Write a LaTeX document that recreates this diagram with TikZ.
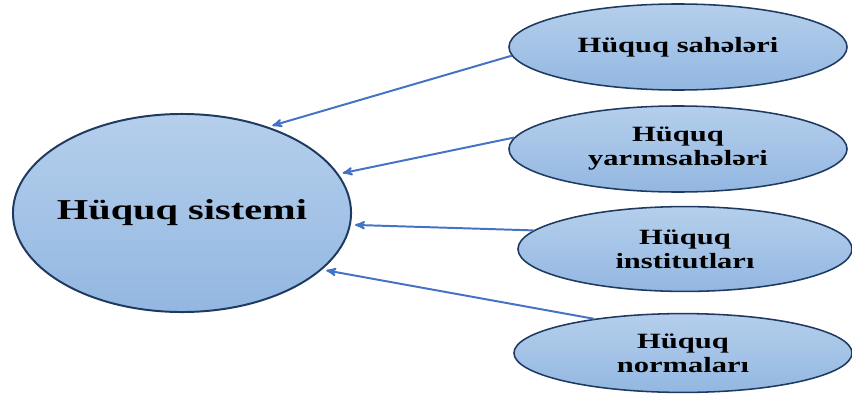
\documentclass[tikz,border=0pt]{standalone}
\usepackage{fontspec}
\newfontfamily\diafont[FakeStretch=1.4]{Liberation Serif}
\usetikzlibrary{%
  arrows,%
  shapes.geometric,% wg. ellipse
  positioning%
}
\definecolor{ellfill top}{HTML}{B5CFEC}
\definecolor{ellfill bot}{HTML}{93B7E1}
\definecolor{elldraw}{HTML}{1F3A60}
\definecolor{arrowblue}{HTML}{4472C4}

\begin{document}
\begin{tikzpicture}[
  x=0.025cm, y=-0.025cm,
  >=stealth',
  bigell/.style={ellipse, draw=elldraw, line width=1.4pt, top color=ellfill top, bottom color=ellfill bot, inner sep=0pt, inner xsep=-12pt, minimum width=8.45cm, minimum height=4.95cm, font=\diafont\bfseries\fontsize{20.5}{24}\selectfont},
  smallell/.style={ellipse, draw=elldraw, line width=1.1pt, top color=ellfill top, bottom color=ellfill bot, inner sep=0pt, minimum width=8.45cm, minimum height=2.15cm, align=center, font=\diafont\bfseries\fontsize{15.5}{17}\selectfont},
  link/.style={->, draw=arrowblue, line width=1.4pt, shorten >=3pt}
]
\useasboundingbox (0,0) rectangle (852,394);

\node[bigell] (system) at (182,213) {Hüquq sistemi};

\node[smallell] (branches) at (678,47) {Hüquq sahələri};
\node[smallell] (subbranches) at (678,149) {Hüquq\\yarımsahələri};
\node[smallell, minimum width=8.35cm, minimum height=2.12cm] (institutes) at (685,249) {Hüquq\\institutları};
\node[smallell, minimum width=8.45cm, minimum height=1.97cm] (norms) at (683,353) {Hüquq\\normaları};

\draw[link] (branches.183.7) -- (system.45.7);
\draw[link] (subbranches.176.3) -- (system.14.4);
\draw[link] (institutes.173.1) -- (system.-4);
\draw[link] (norms.159.4) -- (system.-22.5);

\end{tikzpicture}
\end{document}
